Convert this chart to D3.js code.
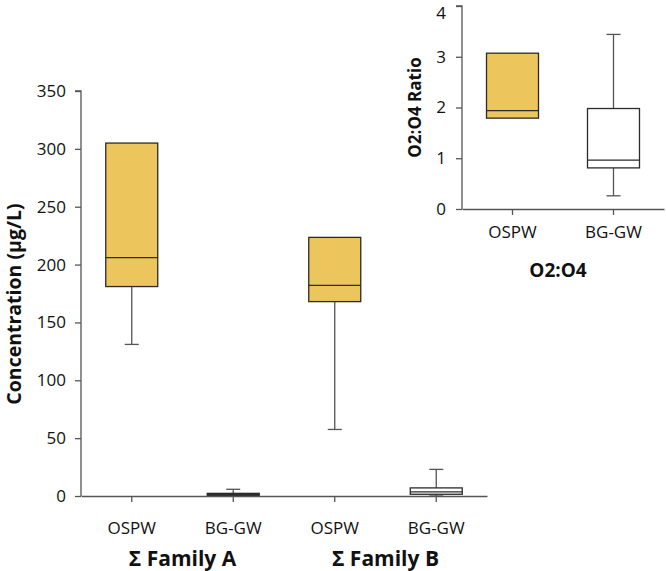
<!DOCTYPE html>
<html><head><meta charset="utf-8">
<script src="https://cdn.jsdelivr.net/npm/d3@7"></script>
<style>body{margin:0;background:#fff}svg{display:block}text{font-family:"Open Sans","Noto Sans",sans-serif;fill:#111}</style>
</head><body>
<svg id="c" width="666" height="571"></svg>
<script>
// Main chart data
const mainCategories = ["A-OSPW","A-BG","B-OSPW","B-BG"];
const mainLabels = ["OSPW","BG-GW","OSPW","BG-GW"];
const groupLabels = ["Σ Family A","Σ Family B"];
const mainMin = [131, 0, 57.5, 0];
const mainQ1 = [181, 0.3, 168, 1.5];
const mainMedian = [206, 1.2, 182, 3.5];
const mainQ3 = [305, 2.3, 223.5, 7];
const mainMax = [305, 5.8, 223.5, 23];
const mainFilled = [true, true, true, false];
const mainTicks = [0,50,100,150,200,250,300,350];
// Inset data
const insetCategories = ["OSPW","BG-GW"];
const insetMin = [1.79, 0.26];
const insetQ1 = [1.79, 0.81];
const insetMedian = [1.94, 0.965];
const insetQ3 = [3.07, 1.98];
const insetMax = [3.07, 3.44];
const insetFilled = [true, false];
const insetTicks = [0,1,2,3,4];

const FILL="#ECC55C", BOXSTROKE="#2b2b2b", AX="#555";
const svg=d3.select("#c");

function drawBoxes(g,x,y,cats,mn,q1,md,q3,mx,filled,bw){
  cats.forEach((c,i)=>{
    const cx=x(c)+x.bandwidth()/2;
    const gg=g.append("g");
    if(mx[i]>q3[i]){
      gg.append("line").attr("x1",cx).attr("x2",cx).attr("y1",y(q3[i])).attr("y2",y(mx[i])).attr("stroke",AX).attr("stroke-width",1.3);
      gg.append("line").attr("x1",cx-7).attr("x2",cx+7).attr("y1",y(mx[i])).attr("y2",y(mx[i])).attr("stroke",AX).attr("stroke-width",1.3);
    }
    if(mn[i]<q1[i]){
      gg.append("line").attr("x1",cx).attr("x2",cx).attr("y1",y(q1[i])).attr("y2",y(mn[i])).attr("stroke",AX).attr("stroke-width",1.3);
      gg.append("line").attr("x1",cx-7).attr("x2",cx+7).attr("y1",y(mn[i])).attr("y2",y(mn[i])).attr("stroke",AX).attr("stroke-width",1.3);
    }
    gg.append("rect").attr("x",cx-bw/2).attr("width",bw).attr("y",y(q3[i])).attr("height",Math.max(0.5,y(q1[i])-y(q3[i])))
      .attr("fill",filled[i]?FILL:"#fff").attr("stroke",BOXSTROKE).attr("stroke-width",1.3);
    gg.append("line").attr("x1",cx-bw/2).attr("x2",cx+bw/2).attr("y1",y(md[i])).attr("y2",y(md[i])).attr("stroke",BOXSTROKE).attr("stroke-width",1.3);
  });
}

// ---- Main chart
const mL=81,mR=487,mT=91,mB=496;
const xM=d3.scaleBand().domain(mainCategories).range([mL,mR]);
const yM=d3.scaleLinear().domain([0,350]).range([mB,mT]);
const gM=svg.append("g");
drawBoxes(gM,xM,yM,mainCategories,mainMin,mainQ1,mainMedian,mainQ3,mainMax,mainFilled,52);
const yAx=gM.append("g").attr("transform",`translate(${mL},0)`).call(d3.axisLeft(yM).tickValues(mainTicks).tickSize(6).tickPadding(9));
const xAx=gM.append("g").attr("transform",`translate(0,${mB})`).call(d3.axisBottom(xM).tickSize(6).tickSizeOuter(0).tickFormat((d,i)=>mainLabels[i]).tickPadding(20));
[yAx,xAx].forEach(a=>{a.selectAll("path,line").attr("stroke",AX).attr("stroke-width",1.3);a.selectAll("text").style("font-size","17px").attr("fill","#111");});
yAx.select(".domain").attr("d",`M-6,${mT}H0V${mB}`);
gM.append("text").attr("transform",`translate(21,304) rotate(-90)`).attr("text-anchor","middle")
  .style("font-size","19.5px").style("font-weight","bold").text("Concentration (µg/L)");
groupLabels.forEach((t,k)=>{
  const c0=xM(mainCategories[2*k])+xM.bandwidth()/2, c1=xM(mainCategories[2*k+1])+xM.bandwidth()/2;
  gM.append("text").attr("x",(c0+c1)/2).attr("y",566).attr("text-anchor","middle").style("font-size","21px").style("font-weight","bold").text(t);
});

// ---- Inset
const iL=462,iR=664,iT=6,iB=209;
const xI=d3.scaleBand().domain(insetCategories).range([iL,iR]);
const yI=d3.scaleLinear().domain([0,4]).range([iB,iT]);
const gI=svg.append("g");
drawBoxes(gI,xI,yI,insetCategories,insetMin,insetQ1,insetMedian,insetQ3,insetMax,insetFilled,52);
const yAxI=gI.append("g").attr("transform",`translate(${iL},0)`).call(d3.axisLeft(yI).tickValues(insetTicks).tickFormat(d3.format("d")).tickSize(6).tickPadding(10));
const xAxI=gI.append("g").attr("transform",`translate(0,${iB})`).call(d3.axisBottom(xI).tickSize(6).tickSizeOuter(0).tickPadding(11));
[yAxI,xAxI].forEach(a=>{a.selectAll("path,line").attr("stroke",AX).attr("stroke-width",1.3);a.selectAll("text").style("font-size","17px").attr("fill","#111");});
yAxI.select(".domain").attr("d",`M-6,${iT}H0V${iB}`);
yAxI.selectAll(".tick text").filter(d=>d===4).attr("dy","0.75em");
gI.append("text").attr("transform",`translate(421,${(iT+iB)/2}) rotate(-90)`).attr("text-anchor","middle")
  .style("font-size","17px").style("font-weight","bold").text("O2:O4 Ratio");
gI.append("text").attr("x",558).attr("y",277).attr("text-anchor","middle")
  .style("font-size","19px").style("font-weight","bold").text("O2:O4");
</script>
</body></html>
